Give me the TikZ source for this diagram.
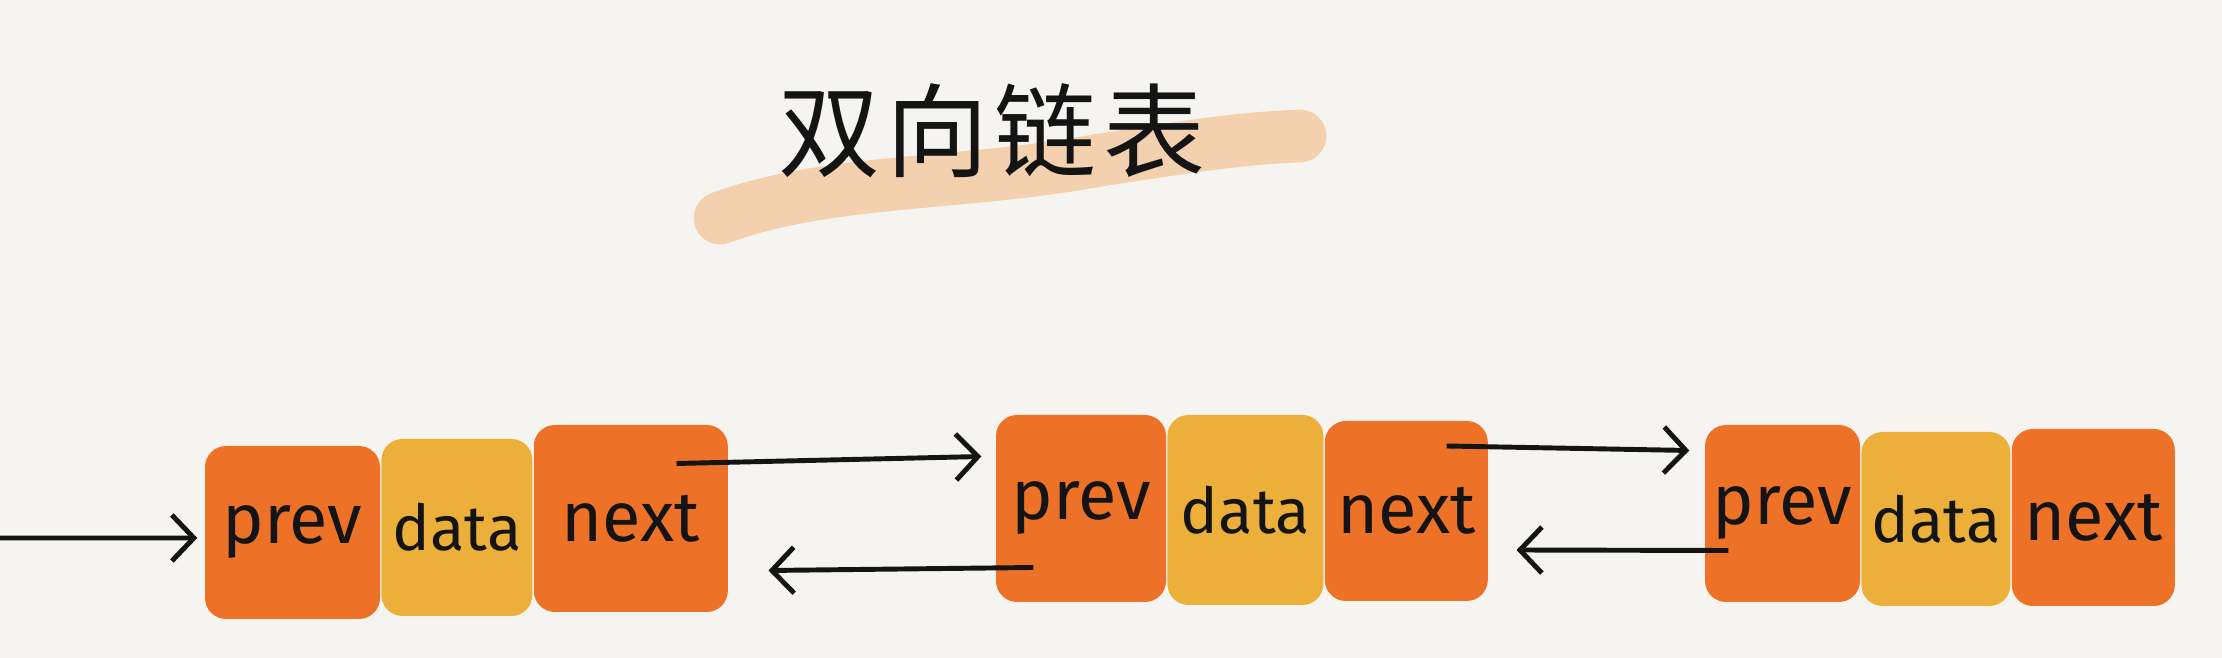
\documentclass[tikz,border=0pt]{standalone}
\usepackage{fontspec}
\setmainfont{Fira Sans}
\newfontfamily\cjk[LetterSpace=6]{Noto Sans CJK SC}
\usepackage{xcolor}
\definecolor{llOrange}{RGB}{237,114,40}
\definecolor{llYellow}{RGB}{236,176,58}
\definecolor{llPaper}{RGB}{246,244,240}
\definecolor{llBrush}{RGB}{243,196,152}
\definecolor{llInk}{RGB}{20,20,20}
\usetikzlibrary{positioning,arrows.meta}

\begin{document}
\begin{tikzpicture}[node distance=0pt,
  ptr/.style={fill=llOrange,rounded corners=6pt,minimum height=1.8cm,font=\fontsize{20}{21}\selectfont,text=llInk,inner sep=0pt},
  dat/.style={ptr,fill=llYellow,font=\fontsize{18}{19}\selectfont},
  a/.style={-{Straight Barb[length=2.2mm,width=4.6mm]},llInk,line width=1.4pt}]
  \fill[llPaper] (0,0) rectangle (22.22,6.58);
  \useasboundingbox (0,0) rectangle (22.22,6.58);

  % title over a brush stroke
  \draw[llBrush,line width=15pt,line cap=round,opacity=.75] (7.2,4.4) .. controls (8.3,4.8) and (9.6,4.72) .. (11,4.98) .. controls (11.8,5.1) and (12.4,5.2) .. (13,5.22);
  \node[font=\cjk\fontsize{29}{30}\selectfont,text=llInk] (title) at (9.92,5.27) {双向链表};

  % first element
  \node[ptr,minimum width=1.75cm,minimum height=1.73cm] (p1) at (2.925,1.255) {prev};
  \node[dat,minimum width=1.51cm,minimum height=1.77cm,right=of p1,yshift=0.05cm] (d1) {data};
  \node[ptr,minimum width=1.94cm,minimum height=1.87cm,right=of d1,yshift=0.09cm] (n1) {next};

  % second element
  \node[ptr,minimum width=1.70cm,minimum height=1.87cm] (p2) at (10.81,1.495) {prev};
  \node[dat,minimum width=1.56cm,minimum height=1.90cm,right=of p2,yshift=-0.015cm] (d2) {data};
  \node[ptr,minimum width=1.63cm,minimum height=1.80cm,right=of d2,yshift=-0.01cm] (n2) {next};

  % third element
  \node[ptr,minimum width=1.55cm,minimum height=1.77cm] (p3) at (17.825,1.445) {prev};
  \node[dat,minimum width=1.49cm,minimum height=1.74cm,right=of p3,yshift=-0.055cm] (d3) {data};
  \node[ptr,minimum width=1.63cm,minimum height=1.77cm,right=of d3,yshift=0.015cm] (n3) {next};

  \coordinate (src) at (0,1.20);
  \draw[a] (src) -- ([xshift=-0.07cm,yshift=-0.055cm]p1.west);
  \draw[a] ([xshift=-0.52cm,yshift=0.55cm]n1.east) -- ([xshift=-0.14cm,yshift=0.52cm]p2.west);
  \draw[a] ([xshift=0.38cm,yshift=-0.59cm]p2.west) -- ([xshift=0.40cm,yshift=-0.52cm]n1.east);
  \draw[a] ([xshift=-0.42cm,yshift=0.65cm]n2.east) -- ([xshift=-0.15cm,yshift=0.63cm]p3.west);
  \draw[a] ([xshift=0.24cm,yshift=-0.37cm]p3.west) -- ([xshift=0.28cm,yshift=-0.39cm]n2.east);
\end{tikzpicture}
\end{document}
